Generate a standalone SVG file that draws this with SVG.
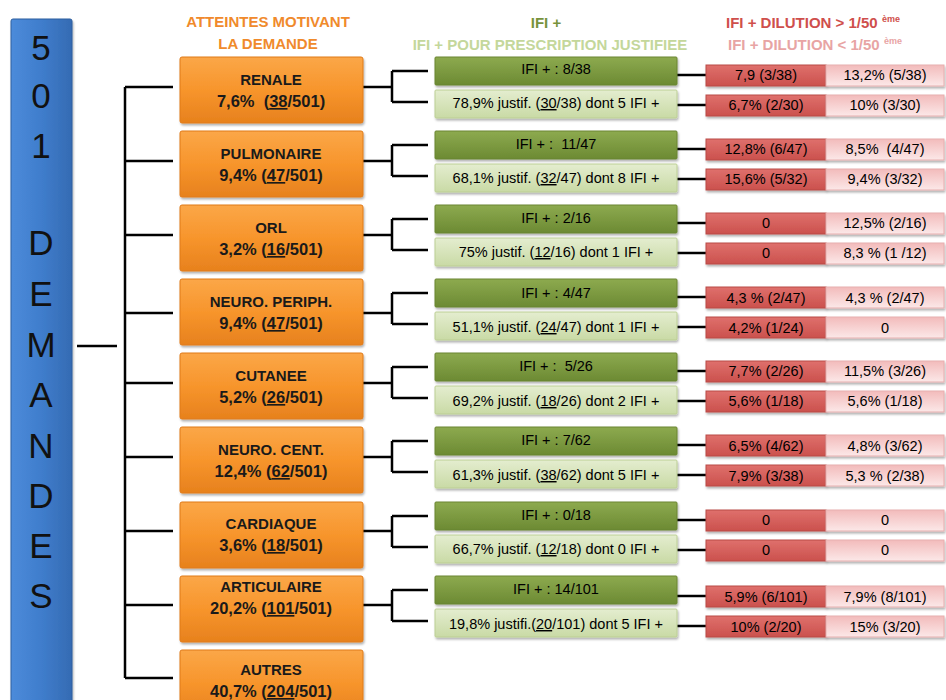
<svg xmlns="http://www.w3.org/2000/svg" width="946" height="700" viewBox="0 0 946 700">
<defs>
<linearGradient id="gBlue" x1="0" y1="0" x2="1" y2="0"><stop offset="0" stop-color="#4C8BDA"/><stop offset="0.5" stop-color="#3F7DCC"/><stop offset="1" stop-color="#356BB3"/></linearGradient>
<linearGradient id="gOr" x1="0" y1="0" x2="0" y2="1"><stop offset="0" stop-color="#FBA748"/><stop offset="0.5" stop-color="#F7952C"/><stop offset="1" stop-color="#E7811D"/></linearGradient>
<linearGradient id="gDg" x1="0" y1="0" x2="0" y2="1"><stop offset="0" stop-color="#8DAA4F"/><stop offset="1" stop-color="#6C8A33"/></linearGradient>
<linearGradient id="gLg" x1="0" y1="0" x2="0" y2="1"><stop offset="0" stop-color="#E4EDCF"/><stop offset="1" stop-color="#C9DAA5"/></linearGradient>
<linearGradient id="gRd" x1="0" y1="0" x2="0" y2="1"><stop offset="0" stop-color="#DF706C"/><stop offset="1" stop-color="#CB514D"/></linearGradient>
<linearGradient id="gPk" x1="0" y1="0" x2="0" y2="1"><stop offset="0" stop-color="#F2BBBB"/><stop offset="1" stop-color="#FCE8E8"/></linearGradient>
<filter id="sh" x="-5%" y="-10%" width="115%" height="130%"><feDropShadow dx="1" dy="2" stdDeviation="1.2" flood-color="#000" flood-opacity="0.3"/></filter>
</defs>
<style>
text{font-family:"Liberation Sans",Arial,sans-serif}
.or{fill:url(#gOr);stroke:#E07A18;stroke-width:1;filter:url(#sh)}
.dg{fill:url(#gDg);stroke:#6A8531;stroke-width:1;filter:url(#sh)}
.lg{fill:url(#gLg);stroke:#BCCF94;stroke-width:1;filter:url(#sh)}
.rd{fill:url(#gRd);stroke:#B94A46;stroke-width:1;filter:url(#sh)}
.pk{fill:url(#gPk);stroke:#E7AFAF;stroke-width:1;filter:url(#sh)}
.ot{font-size:15px;font-weight:bold;fill:#1A1A1A;text-anchor:middle}
.on{font-size:16.5px;font-weight:bold;fill:#1A1A1A;text-anchor:middle}
.bt{font-size:14.5px;fill:#000;text-anchor:middle}
.big{font-size:35px;fill:#111;text-anchor:middle}
.h{font-size:15px;font-weight:bold}
.u{text-decoration:underline}
.sup{font-size:9px}
.ln{fill:none;stroke:#000;stroke-width:2.5}
</style>

<g id="total">
<rect x="11" y="19" width="61" height="690" rx="2" fill="url(#gBlue)" stroke="#2F5F9E" stroke-width="1" filter="url(#sh)"/>
<text class="big" x="41" y="60">5</text>
<text class="big" x="41" y="108">0</text>
<text class="big" x="41" y="158">1</text>
<text class="big" x="41" y="255">D</text>
<text class="big" x="41" y="306">E</text>
<text class="big" x="41" y="357">M</text>
<text class="big" x="41" y="407">A</text>
<text class="big" x="41" y="458">N</text>
<text class="big" x="41" y="508">D</text>
<text class="big" x="41" y="558">E</text>
<text class="big" x="41" y="608">S</text>
</g>

<g id="headers">
<text class="h" x="268" y="27" text-anchor="middle" fill="#F08A2C">ATTEINTES MOTIVANT</text>
<text class="h" x="268" y="49" text-anchor="middle" fill="#F08A2C">LA DEMANDE</text>
<text class="h" x="546" y="28" text-anchor="middle" fill="#77933C">IFI +</text>
<text class="h" x="550" y="50" text-anchor="middle" fill="#C4D79B">IFI + POUR PRESCRIPTION JUSTIFIEE</text>
<text class="h" x="726" y="28" fill="#CF4F4C">IFI + DILUTION &gt; 1/50 <tspan class="sup" dy="-6">ème</tspan></text>
<text class="h" x="728" y="50" fill="#E8A4A4">IFI + DILUTION &lt; 1/50 <tspan class="sup" dy="-6">ème</tspan></text>
</g>

<g id="connectors">
<path class="ln" d="M77,346 H117 M125,87 V678 M125,87 H173 M125,161 H173 M125,235 H173 M125,313 H173 M125,383 H173 M125,457 H173 M125,531 H173 M125,605 H173 M125,678 H173"/>
<path class="ln" d="M363,87 H392 M392,71 V102 M392,71 H428 M392,102 H428 M677,75 H706 M677,105 H706"/>
<path class="ln" d="M363,161 H392 M392,145 V176 M392,145 H428 M392,176 H428 M677,149 H706 M677,179 H706"/>
<path class="ln" d="M363,235 H392 M392,219 V250 M392,219 H428 M392,250 H428 M677,223 H706 M677,253 H706"/>
<path class="ln" d="M363,313 H392 M392,293 V324 M392,293 H428 M392,324 H428 M677,297 H706 M677,327 H706"/>
<path class="ln" d="M363,383 H392 M392,367 V398 M392,367 H428 M392,398 H428 M677,371 H706 M677,401 H706"/>
<path class="ln" d="M363,457 H392 M392,441 V472 M392,441 H428 M392,472 H428 M677,445 H706 M677,475 H706"/>
<path class="ln" d="M363,531 H392 M392,516 V547 M392,516 H428 M392,547 H428 M677,520 H706 M677,550 H706"/>
<path class="ln" d="M363,605 H392 M392,590 V621 M392,590 H428 M392,621 H428 M677,596 H706 M677,626 H706"/>
</g>

<g id="renale">
<rect class="or" x="180" y="57" width="183" height="66" rx="2"/>
<text class="ot" x="271" y="85">RENALE</text>
<text class="on" x="271" y="107" xml:space="preserve">7,6%  (<tspan class="u">38</tspan>/501)</text>
<rect class="dg" x="435" y="57" width="242" height="28" rx="1"/>
<text class="bt" x="556" y="74">IFI + : 8/38</text>
<rect class="lg" x="435" y="90" width="242" height="28" rx="1"/>
<text class="bt" x="556" y="108">78,9% justif. (<tspan class="u">30</tspan>/38) dont 5 IFI +</text>
<rect class="rd" x="706" y="65" width="120" height="21"/>
<text class="bt" x="766" y="80">7,9 (3/38)</text>
<rect class="pk" x="826" y="65" width="118" height="21"/>
<text class="bt" x="885" y="80">13,2% (5/38)</text>
<rect class="rd" x="706" y="95" width="120" height="21"/>
<text class="bt" x="766" y="110">6,7% (2/30)</text>
<rect class="pk" x="826" y="95" width="118" height="21"/>
<text class="bt" x="885" y="110">10% (3/30)</text>
</g>

<g id="pulmonaire">
<rect class="or" x="180" y="131" width="183" height="66" rx="2"/>
<text class="ot" x="271" y="159">PULMONAIRE</text>
<text class="on" x="271" y="181">9,4% (<tspan class="u">47</tspan>/501)</text>
<rect class="dg" x="435" y="131" width="242" height="28" rx="1"/>
<text class="bt" x="556" y="149" xml:space="preserve">IFI + :  11/47</text>
<rect class="lg" x="435" y="164" width="242" height="28" rx="1"/>
<text class="bt" x="556" y="183">68,1% justif. (<tspan class="u">32</tspan>/47) dont 8 IFI +</text>
<rect class="rd" x="706" y="139" width="120" height="21"/>
<text class="bt" x="766" y="154">12,8% (6/47)</text>
<rect class="pk" x="826" y="139" width="118" height="21"/>
<text class="bt" x="885" y="154" xml:space="preserve">8,5%  (4/47)</text>
<rect class="rd" x="706" y="169" width="120" height="21"/>
<text class="bt" x="766" y="184">15,6% (5/32)</text>
<rect class="pk" x="826" y="169" width="118" height="21"/>
<text class="bt" x="885" y="184">9,4% (3/32)</text>
</g>

<g id="orl">
<rect class="or" x="180" y="205" width="183" height="66" rx="2"/>
<text class="ot" x="271" y="233">ORL</text>
<text class="on" x="271" y="255">3,2% (<tspan class="u">16</tspan>/501)</text>
<rect class="dg" x="435" y="205" width="242" height="28" rx="1"/>
<text class="bt" x="556" y="223">IFI + : 2/16</text>
<rect class="lg" x="435" y="238" width="242" height="28" rx="1"/>
<text class="bt" x="556" y="257">75% justif. (<tspan class="u">12</tspan>/16) dont 1 IFI +</text>
<rect class="rd" x="706" y="213" width="120" height="21"/>
<text class="bt" x="766" y="228">0</text>
<rect class="pk" x="826" y="213" width="118" height="21"/>
<text class="bt" x="885" y="228">12,5% (2/16)</text>
<rect class="rd" x="706" y="243" width="120" height="21"/>
<text class="bt" x="766" y="258">0</text>
<rect class="pk" x="826" y="243" width="118" height="21"/>
<text class="bt" x="885" y="258">8,3 % (1 /12)</text>
</g>

<g id="neuro-periph">
<rect class="or" x="180" y="279" width="183" height="66" rx="2"/>
<text class="ot" x="271" y="307">NEURO. PERIPH.</text>
<text class="on" x="271" y="329">9,4% (<tspan class="u">47</tspan>/501)</text>
<rect class="dg" x="435" y="279" width="242" height="28" rx="1"/>
<text class="bt" x="556" y="298">IFI + : 4/47</text>
<rect class="lg" x="435" y="312" width="242" height="28" rx="1"/>
<text class="bt" x="556" y="332">51,1% justif. (<tspan class="u">24</tspan>/47) dont 1 IFI +</text>
<rect class="rd" x="706" y="287" width="120" height="21"/>
<text class="bt" x="766" y="303">4,3 % (2/47)</text>
<rect class="pk" x="826" y="287" width="118" height="21"/>
<text class="bt" x="885" y="303">4,3 % (2/47)</text>
<rect class="rd" x="706" y="317" width="120" height="21"/>
<text class="bt" x="766" y="333">4,2% (1/24)</text>
<rect class="pk" x="826" y="317" width="118" height="21"/>
<text class="bt" x="885" y="333">0</text>
</g>

<g id="cutanee">
<rect class="or" x="180" y="353" width="183" height="66" rx="2"/>
<text class="ot" x="271" y="381">CUTANEE</text>
<text class="on" x="271" y="403">5,2% (<tspan class="u">26</tspan>/501)</text>
<rect class="dg" x="435" y="353" width="242" height="28" rx="1"/>
<text class="bt" x="556" y="371" xml:space="preserve">IFI + :  5/26</text>
<rect class="lg" x="435" y="386" width="242" height="28" rx="1"/>
<text class="bt" x="556" y="406">69,2% justif. (<tspan class="u">18</tspan>/26) dont 2 IFI +</text>
<rect class="rd" x="706" y="361" width="120" height="21"/>
<text class="bt" x="766" y="376">7,7% (2/26)</text>
<rect class="pk" x="826" y="361" width="118" height="21"/>
<text class="bt" x="885" y="376">11,5% (3/26)</text>
<rect class="rd" x="706" y="391" width="120" height="21"/>
<text class="bt" x="766" y="406">5,6% (1/18)</text>
<rect class="pk" x="826" y="391" width="118" height="21"/>
<text class="bt" x="885" y="406">5,6% (1/18)</text>
</g>

<g id="neuro-cent">
<rect class="or" x="180" y="427" width="183" height="66" rx="2"/>
<text class="ot" x="271" y="455">NEURO. CENT.</text>
<text class="on" x="271" y="477">12,4% (<tspan class="u">62</tspan>/501)</text>
<rect class="dg" x="435" y="427" width="242" height="28" rx="1"/>
<text class="bt" x="556" y="445">IFI + : 7/62</text>
<rect class="lg" x="435" y="460" width="242" height="28" rx="1"/>
<text class="bt" x="556" y="480">61,3% justif. (<tspan class="u">38</tspan>/62) dont 5 IFI +</text>
<rect class="rd" x="706" y="435" width="120" height="21"/>
<text class="bt" x="766" y="451">6,5% (4/62)</text>
<rect class="pk" x="826" y="435" width="118" height="21"/>
<text class="bt" x="885" y="451">4,8% (3/62)</text>
<rect class="rd" x="706" y="465" width="120" height="21"/>
<text class="bt" x="766" y="481">7,9% (3/38)</text>
<rect class="pk" x="826" y="465" width="118" height="21"/>
<text class="bt" x="885" y="481">5,3 % (2/38)</text>
</g>

<g id="cardiaque">
<rect class="or" x="180" y="502" width="183" height="66" rx="2"/>
<text class="ot" x="271" y="529">CARDIAQUE</text>
<text class="on" x="271" y="551">3,6% (<tspan class="u">18</tspan>/501)</text>
<rect class="dg" x="435" y="502" width="242" height="28" rx="1"/>
<text class="bt" x="556" y="520">IFI + : 0/18</text>
<rect class="lg" x="435" y="535" width="242" height="28" rx="1"/>
<text class="bt" x="556" y="554">66,7% justif. (<tspan class="u">12</tspan>/18) dont 0 IFI +</text>
<rect class="rd" x="706" y="510" width="120" height="21"/>
<text class="bt" x="766" y="525">0</text>
<rect class="pk" x="826" y="510" width="118" height="21"/>
<text class="bt" x="885" y="525">0</text>
<rect class="rd" x="706" y="540" width="120" height="21"/>
<text class="bt" x="766" y="555">0</text>
<rect class="pk" x="826" y="540" width="118" height="21"/>
<text class="bt" x="885" y="555">0</text>
</g>

<g id="articulaire">
<rect class="or" x="180" y="576" width="183" height="66" rx="2"/>
<text class="ot" x="271" y="592">ARTICULAIRE</text>
<text class="on" x="271" y="614">20,2% (<tspan class="u">101</tspan>/501)</text>
<rect class="dg" x="435" y="576" width="242" height="28" rx="1"/>
<text class="bt" x="556" y="594">IFI + : 14/101</text>
<rect class="lg" x="435" y="609" width="242" height="28" rx="1"/>
<text class="bt" x="556" y="629">19,8% justifi.(<tspan class="u">20</tspan>/101) dont 5 IFI +</text>
<rect class="rd" x="706" y="586" width="120" height="21"/>
<text class="bt" x="766" y="602">5,9% (6/101)</text>
<rect class="pk" x="826" y="586" width="118" height="21"/>
<text class="bt" x="885" y="602">7,9% (8/101)</text>
<rect class="rd" x="706" y="616" width="120" height="21"/>
<text class="bt" x="766" y="632">10% (2/20)</text>
<rect class="pk" x="826" y="616" width="118" height="21"/>
<text class="bt" x="885" y="632">15% (3/20)</text>
</g>

<g id="autres">
<rect class="or" x="180" y="650" width="183" height="66" rx="2"/>
<text class="ot" x="271" y="675">AUTRES</text>
<text class="on" x="271" y="697">40,7% (<tspan class="u">204</tspan>/501)</text>
</g>
</svg>
